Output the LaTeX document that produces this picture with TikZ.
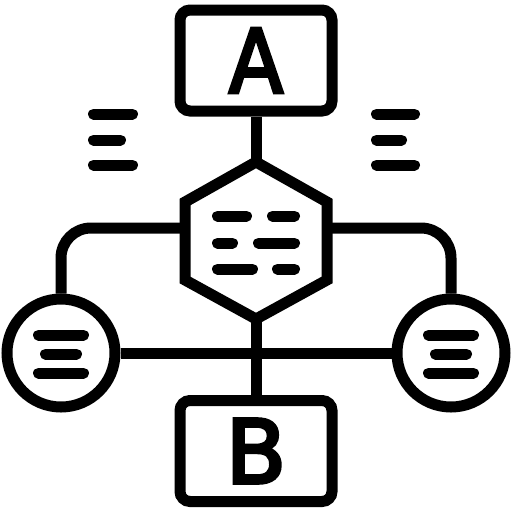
\documentclass[tikz,border=0pt]{standalone}
\usepackage{graphicx}
\usepackage{fontspec}
\newfontfamily\letterfont[FakeBold=4]{DejaVu Sans}
\begin{document}
\begin{tikzpicture}[x=1pt,y=-1pt,
  box/.style={draw, line width=11pt, rounded corners=10pt, minimum width=152pt, minimum height=101pt, inner sep=0pt},
  bubble/.style={draw, circle, line width=11pt, minimum size=108pt, inner sep=0pt},
  wire/.style={line width=11pt},
  bar/.style={line width=11pt, line cap=round},
  letter/.style={font=\letterfont\fontsize{88}{88}\selectfont}
]
\useasboundingbox (0,0) rectangle (512,512);

% boxes
\node[box, letter] (A) at (256,60.5) {\scalebox{0.9}[1]{A}};
\node[box, letter] (B) at (256,451) {B};

% hexagon
\coordinate (ht) at (256,162);
\coordinate (hur) at (327,202);
\coordinate (hlr) at (327,280);
\coordinate (hb) at (256,319);
\coordinate (hll) at (185,280);
\coordinate (hul) at (185,202);
\coordinate (hw) at (185,228);
\coordinate (he) at (327,228);
\draw[wire] (ht) -- (hur) -- (hlr) -- (hb) -- (hll) -- (hul) -- cycle;

% circles
\node[bubble] (L) at (61,353) {};
\node[bubble] (R) at (451,353) {};

% connectors
\draw[wire] (A.south) -- (ht);
\draw[wire] (hb) -- (B.north);
\draw[wire, rounded corners=30pt] (hw) -| (L.north);
\draw[wire, rounded corners=30pt] (he) -| (R.north);
\draw[wire] (L.east) -- (R.west);

% hexagon lines
\draw[bar] (217.5,216) -- (246.5,216);
\draw[bar] (272.5,216) -- (294.5,216);
\draw[bar] (217.5,243) -- (232.5,243);
\draw[bar] (258.5,243) -- (294.5,243);
\draw[bar] (217.5,269) -- (252.5,269);
\draw[bar] (277.5,269) -- (294.5,269);

% circle lines
\draw[bar] (38.5,335) -- (83.5,335);
\draw[bar] (45.5,354) -- (76.5,354);
\draw[bar] (38.5,373) -- (83.5,373);
\draw[bar] (428.5,335) -- (473.5,335);
\draw[bar] (435.5,354) -- (466.5,354);
\draw[bar] (428.5,373) -- (473.5,373);

% side markers
\draw[bar] (93.5,114) -- (132.5,114);
\draw[bar] (93.5,140) -- (120.5,140);
\draw[bar] (93.5,165) -- (132.5,165);
\draw[bar] (376.5,114) -- (414.5,114);
\draw[bar] (376.5,140) -- (401.5,140);
\draw[bar] (376.5,165) -- (414.5,165);
\end{tikzpicture}
\end{document}
